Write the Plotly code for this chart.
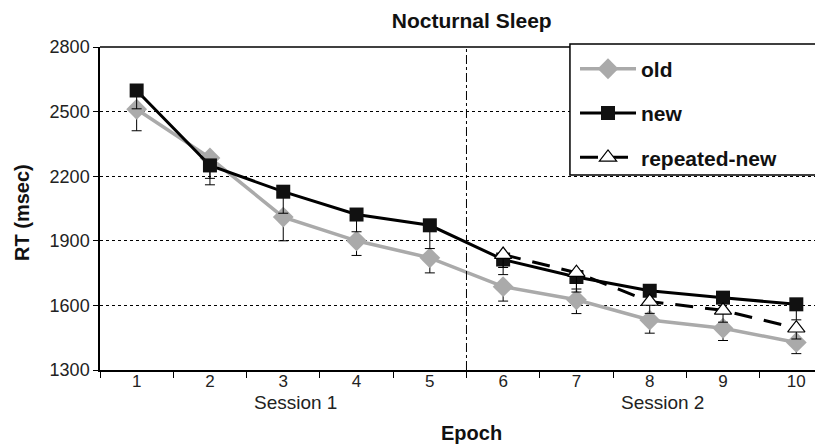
import plotly.graph_objects as go

epochs = ["1", "2", "3", "4", "5", "6", "7", "8", "9", "10"]
old_rt = [2511, 2285, 2010, 1900, 1821, 1687, 1626, 1532, 1494, 1428]
old_err = [100, 95, 110, 68, 70, 67, 64, 61, 57, 52]
new_rt = [2598, 2250, 2128, 2022, 1972, 1813, 1732, 1668, 1636, 1605]
new_err = [85, 90, 100, 80, 108, 70, 70, 60, 60, 72]
rep_epochs = ["6", "7", "8", "9", "10"]
rep_rt = [1836, 1752, 1618, 1577, 1494]
rep_err = [60, 76, 55, 55, 50]
y_ticks = [1300, 1600, 1900, 2200, 2500, 2800]

FONT = "Liberation Sans, Arial, sans-serif"

fig = go.Figure()
fig.add_trace(go.Scatter(
    x=epochs, y=old_rt, name="old", mode="lines+markers",
    line=dict(color="#aaaaaa", width=3.5),
    marker=dict(symbol="diamond", size=16, color="#aaaaaa"),
    error_y=dict(type="data", symmetric=False, array=[0]*10, arrayminus=old_err,
                 color="black", thickness=1, width=5),
    legendgroup="a",
))
fig.add_trace(go.Scatter(
    x=epochs, y=new_rt, name="new", mode="lines+markers",
    line=dict(color="black", width=3),
    marker=dict(symbol="square", size=14, color="#111111"),
    error_y=dict(type="data", symmetric=False, array=[0]*10, arrayminus=new_err,
                 color="black", thickness=1, width=5),
    legendgroup="b",
))
fig.add_trace(go.Scatter(
    x=rep_epochs, y=rep_rt, name="repeated-new", mode="lines+markers",
    line=dict(color="black", width=3, dash="18px,12px"),
    marker=dict(symbol="triangle-up", size=15, color="white",
                line=dict(color="black", width=1.2)),
    error_y=dict(type="data", symmetric=False, array=[0]*5, arrayminus=rep_err,
                 color="black", thickness=1, width=5),
    legendgroup="c",
))

# page has an 8px body margin, so the figure is sized/offset to compensate
fig.update_layout(
    width=815, height=439,
    margin=dict(l=92, r=0, t=39, b=77),
    paper_bgcolor="white", plot_bgcolor="white",
    font=dict(family=FONT, size=17, color="#222"),
    showlegend=True,
    legend=dict(x=0.657, y=0.995, xanchor="left", yanchor="top",
                bgcolor="rgba(0,0,0,0)", borderwidth=0,
                font=dict(family=FONT, size=21, color="#111", weight="bold"),
                tracegroupgap=14, itemwidth=56),
    title=dict(text="<b>Nocturnal Sleep</b>", x=0.569, xanchor="center",
               y=0.972, yanchor="middle", yref="container",
               font=dict(family=FONT, size=21, color="#111")),
)

fig.update_xaxes(
    type="category", categoryorder="array", categoryarray=epochs,
    range=[-0.5, 9.364], tickson="boundaries", ticks="outside", ticklen=6,
    tickcolor="black", tickwidth=1, showline=True, linecolor="black", linewidth=1.5,
    showgrid=False, zeroline=False, tickfont=dict(size=17, color="#222"),
    ticklabelstandoff=-5,
)
fig.update_yaxes(
    range=[1300, 2800], tickvals=y_ticks, ticks="outside", ticklen=5,
    tickcolor="black", showline=True, linecolor="black", linewidth=1.5,
    showgrid=True, gridcolor="black", gridwidth=1, griddash="dot",
    zeroline=False, tickfont=dict(size=18, color="#222"),
)

# top border line, vertical session divider, legend box
fig.add_shape(type="line", xref="paper", yref="paper", x0=0, x1=1, y0=1, y1=1,
              line=dict(color="black", width=1.5))
fig.add_shape(type="line", xref="x", yref="paper", x0=4.5, x1=4.5, y0=0, y1=1,
              line=dict(color="black", width=1, dash="dashdot"))
fig.add_shape(type="rect", xref="paper", yref="paper",
              x0=0.650, x1=1.06, y0=0.604, y1=1.0093,
              line=dict(color="black", width=1.5), fillcolor="white", layer="above")

fig.add_annotation(text="<b>RT (msec)</b>", x=-0.108, xref="paper", y=0.489, yref="paper",
                   textangle=-90, showarrow=False, xanchor="center", yanchor="middle",
                   font=dict(size=20, color="#111"))
fig.add_annotation(text="Session 1", x=2.17, xref="x", y=-0.102, yref="paper",
                   showarrow=False, yanchor="middle", font=dict(size=19, color="#222"))
fig.add_annotation(text="Session 2", x=7.17, xref="x", y=-0.102, yref="paper",
                   showarrow=False, yanchor="middle", font=dict(size=19, color="#222"))
fig.add_annotation(text="<b>Epoch</b>", x=4.57, xref="x", y=-0.196, yref="paper",
                   showarrow=False, yanchor="middle", font=dict(size=20, color="#111"))

fig.write_html("out.html")
